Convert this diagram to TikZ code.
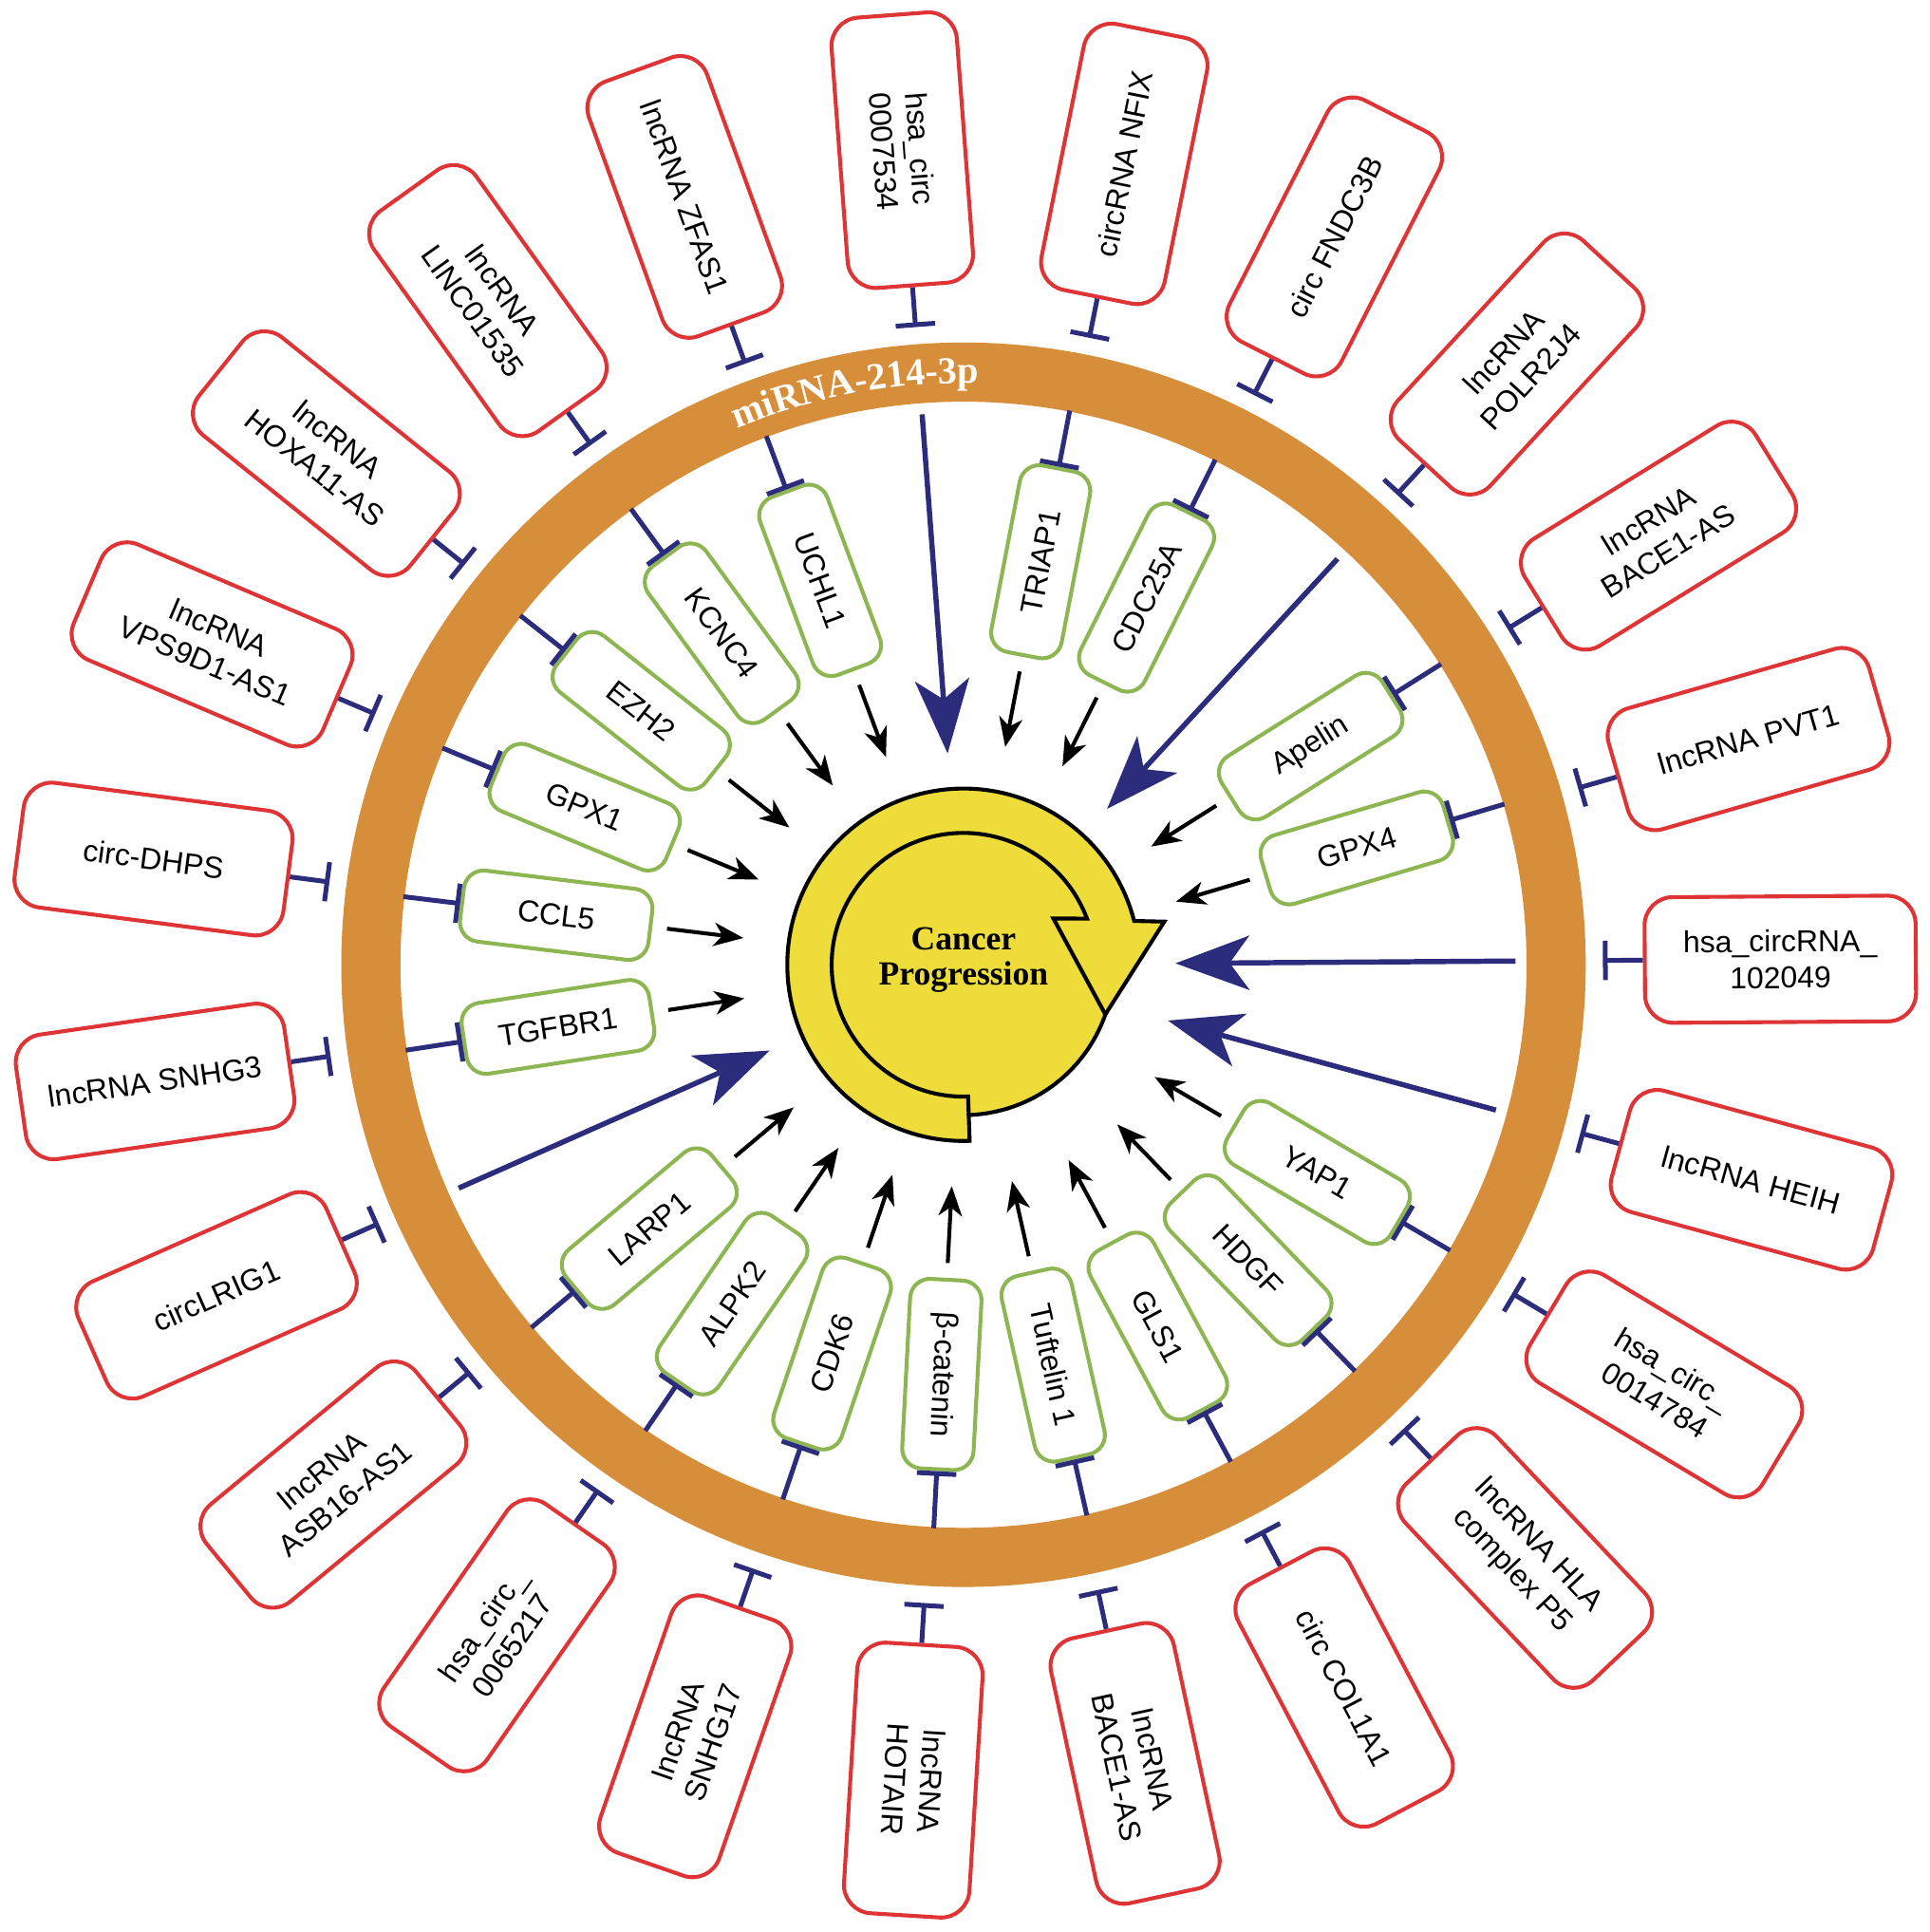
\documentclass[tikz,border=0pt]{standalone}
\usepackage{fontspec}
\setmainfont{Liberation Sans}
\newfontfamily\timesfont{Liberation Serif}
\usetikzlibrary{arrows.meta, calc, decorations.text}
\definecolor{ringfill}{HTML}{D68E3A}
\definecolor{srcline}{HTML}{DE3435}
\definecolor{tgtline}{HTML}{8DB653}
\definecolor{inhibline}{HTML}{2C2C7C}
\definecolor{corefill}{HTML}{EEDC3A}
\tikzset{
  srcblk/.style = {rectangle, rounded corners=2.3mm, draw=srcline, fill=white, line width=0.9pt,
                   align=center, font=\fontsize{7}{8.4}\selectfont, minimum width=22mm,
                   minimum height=10.2mm, inner sep=1pt},
  tgtblk/.style = {rectangle, rounded corners=1.6mm, draw=tgtline, fill=white, line width=0.9pt,
                   align=center, font=\fontsize{7}{8.4}\selectfont, minimum width=15.4mm,
                   minimum height=5.8mm, inner sep=1pt},
  inhib/.style  = {-{Bar[width=3.2mm]}, line width=1.1pt, draw=inhibline},
  flow/.style   = {-{Stealth[length=2.4mm, width=1.9mm, inset=0.7mm]}, line width=0.9pt, draw=black},
  bigflow/.style= {-{Stealth[length=6mm, width=4.4mm, inset=1.6mm]}, line width=1.2pt, draw=inhibline},
  corelbl/.style= {font=\timesfont\bfseries\fontsize{7.8}{8}\selectfont, align=center},
}

\begin{document}
\begin{tikzpicture}[x=0.1mm, y=0.1mm]
  \useasboundingbox (0,0) rectangle (1566,1568);
  \coordinate (C) at (782,785);
  % miRNA ring
  \draw[ringfill, line width=4.8mm] (C) circle[radius=481];
  \path[decorate, decoration={text along path, text align=center,
      text={|\timesfont\bfseries\fontsize{8.8}{9}\selectfont\color{white}|miRNA-214-3p}}]
    ($(C)+(120.7:472)$) arc[start angle=120.7, end angle=80.7, radius=472];
  % sponges (outer)
  \foreach \lab [count=\i from 0] in {{hsa\_circ\\0007534}, {circRNA NFIX}, {circ FNDC3B},
      {lncRNA\\POLR2J4}, {lncRNA\\BACE1-AS}, {lncRNA PVT1}, {hsa\_circRNA\_\\102049},
      {lncRNA HEIH}, {hsa\_circ\_\\0014784}, {lncRNA HLA\\complex P5}, {circ COL1A1},
      {lncRNA\\BACE1-AS}, {lncRNA\\HOTAIR}, {lncRNA\\SNHG17}, {hsa\_circ\_\\0065217},
      {lncRNA\\ASB16-AS1}, {circLRIG1}, {lncRNA SNHG3}, {circ-DHPS}, {lncRNA\\VPS9D1-AS1},
      {lncRNA\\HOXA11-AS}, {lncRNA\\LINC01535}, {lncRNA ZFAS1}}{
    \pgfmathsetmacro{\a}{94.3-15.652*\i}
    \pgfmathsetmacro{\rot}{\a>90 ? \a-180 : (\a<-100 ? \a+180 : \a)}
    \node[srcblk, rotate=\rot] (src\i) at ($(C)+(\a:663)$) {\lab};
    \coordinate (sbar\i) at ($(C)+(\a:519)$);
    \draw[inhib] (src\i) -- (sbar\i);
  }
  % targets (inner)
  \foreach \i/\lab in {1/TRIAP1, 2/CDC25A, 4/Apelin, 5/GPX4, 8/YAP1, 9/HDGF, 10/GLS1,
      11/Tuftelin 1, 12/β-catenin, 13/CDK6, 14/ALPK2, 15/LARP1, 17/TGFBR1, 18/CCL5,
      19/GPX1, 20/EZH2, 21/KCNC4, 22/UCHL1}{
    \pgfmathsetmacro{\a}{94.8-15.652*\i}
    \pgfmathsetmacro{\rot}{\a>90 ? \a-180 : (\a<-100 ? \a+180 : \a)}
    \node[tgtblk, rotate=\rot] (tgt\i) at ($(C)+(\a:333)$) {\lab};
    \coordinate (rin\i) at ($(C)+(\a:458)$);
    \coordinate (tip\i) at ($(C)+(\a:180)$);
    \draw[inhib] (rin\i) -- (tgt\i);
    \draw[flow, shorten <=1.2mm] (tgt\i) -- (tip\i);
  }
  % direct effects
  \foreach \i in {0,3,6,7,16}{
    \pgfmathsetmacro{\a}{94.3-15.652*\i}
    \coordinate (bs\i) at ($(C)+(\a:448)$);
    \coordinate (be\i) at ($(C)+(\a:172)$);
    \draw[bigflow] (bs\i) -- (be\i);
  }
  % cancer progression cycle
  \filldraw[fill=corefill, draw=black, line width=0.9pt]
    ($(C)+(-88:143)$) arc[start angle=-88, end angle=-345.6, radius=143]
    -- ($(C)+(163,35)$) -- ($(C)+(-19.3:122)$)
    arc[start angle=-19.3, end angle=-88, radius=122] -- cycle;
  \draw[black, line width=0.9pt]
    ($(C)+(-88:122)$) -- ($(C)+(-88:107)$) arc[start angle=-88, end angle=-339.5, radius=107]
    -- ($(C)+(73,37.5)$) -- ($(C)+(-19.3:122)$);
  \node[corelbl] (core) at ($(C)+(0,4)$) {Cancer\\Progression};
\end{tikzpicture}
\end{document}
